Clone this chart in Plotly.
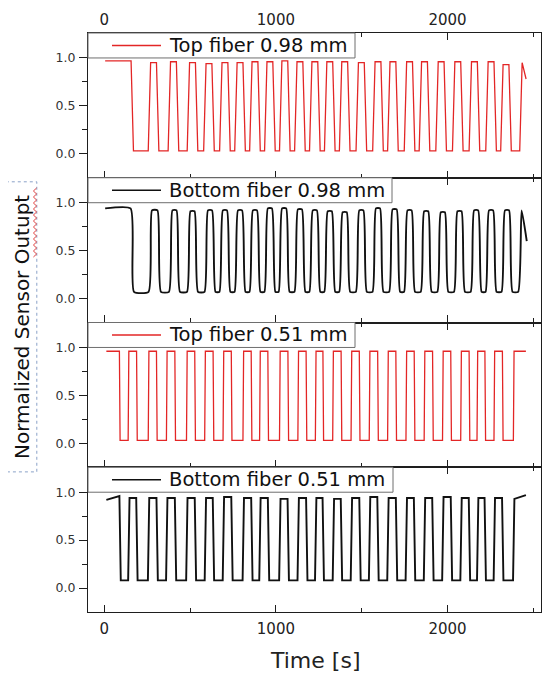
import plotly.graph_objects as go

# ---------------- data ----------------
# Edge times [s] (mid-level crossings), alternating fall / rise, starting with a fall
top098_edges = [163, 263, 311, 379, 427, 490, 538, 586, 634, 679, 727, 767, 815,
                854, 902, 941, 989, 1028, 1076, 1116, 1164, 1203, 1251, 1290, 1338,
                1377, 1425, 1474, 1522, 1571, 1619, 1658, 1706, 1755, 1803, 1842, 1890,
                1939, 1987, 2036, 2084, 2133, 2181, 2230, 2278, 2317, 2365, 2428]
top098_highs = [0.97, 0.95, 0.96, 0.95, 0.94, 0.95, 0.95, 0.96, 0.96, 0.97, 0.96, 0.96,
                0.96, 0.96, 0.95, 0.96, 0.96, 0.96, 0.96, 0.96, 0.96, 0.96, 0.96, 0.93, 0.95]
top098_low = 0.03
top098_start, top098_start_val = 5, 0.97
top098_end, top098_end_val = 2458, 0.78

bot098_edges = [163, 268, 320, 387, 431, 492, 536, 594, 638, 681, 725, 769, 813,
                856, 900, 943, 987, 1026, 1070, 1118, 1162, 1205, 1249, 1292, 1336,
                1379, 1423, 1476, 1520, 1573, 1617, 1670, 1714, 1757, 1801, 1854, 1898,
                1951, 1995, 2048, 2092, 2145, 2189, 2232, 2276, 2325, 2369, 2422]
bot098_highs = [0.94, 0.92, 0.92, 0.91, 0.92, 0.92, 0.92, 0.92, 0.94, 0.94, 0.93, 0.92,
                0.91, 0.90, 0.92, 0.94, 0.93, 0.92, 0.91, 0.90, 0.91, 0.92, 0.92, 0.92, 0.92]
bot098_low = 0.07
bot098_start, bot098_start_val = 5, 0.94
bot098_end, bot098_end_val = 2462, 0.60

top051_edges = [90, 141, 190, 258, 306, 364, 413, 481, 529, 587, 636, 694, 742,
                810, 858, 907, 955, 1023, 1072, 1130, 1178, 1232, 1276, 1333, 1382,
                1440, 1488, 1546, 1595, 1653, 1701, 1760, 1808, 1866, 1915, 1973, 2021,
                2079, 2128, 2174, 2220, 2273, 2322, 2386]
top051_highs = [0.96, 0.96, 0.96, 0.96, 0.96, 0.96, 0.96, 0.96, 0.96, 0.96, 0.96, 0.96,
                0.96, 0.96, 0.96, 0.96, 0.96, 0.96, 0.96, 0.96, 0.96, 0.96, 0.96]
top051_low = 0.03
top051_start, top051_start_val = 12, 0.96
top051_end, top051_end_val = 2457, 0.96

bot051_edges = [92, 143, 190, 258, 308, 364, 415, 481, 531, 589, 636, 694, 744,
                810, 860, 907, 957, 1023, 1072, 1130, 1180, 1232, 1276, 1335, 1382,
                1440, 1490, 1546, 1595, 1653, 1703, 1760, 1808, 1866, 1915, 1973, 2023,
                2079, 2128, 2176, 2220, 2273, 2322, 2386]
bot051_highs = [0.96, 0.94, 0.94, 0.94, 0.94, 0.94, 0.95, 0.94, 0.94, 0.93, 0.94, 0.94,
                0.93, 0.94, 0.95, 0.94, 0.94, 0.94, 0.95, 0.94, 0.94, 0.94, 0.93]
bot051_low = 0.08
bot051_start, bot051_start_val = 12, 0.92
bot051_end, bot051_end_val = 2457, 0.97

series_names = ["Top fiber 0.98 mm", "Bottom fiber 0.98 mm",
                "Top fiber 0.51 mm", "Bottom fiber 0.51 mm"]
x_ticks = [0, 1000, 2000]
y_ticks = [0.0, 0.5, 1.0]


def step_path(t_start, start_val, edges, highs, low, t_end, end_val, ramp):
    t, y = [t_start], [start_val]
    hi_idx, is_high = 0, True
    for e in edges:
        if is_high:
            t += [e - ramp / 2, e + ramp / 2]
            y += [highs[hi_idx], low]
        else:
            hi_idx += 1
            t += [e - ramp / 2, e + ramp / 2]
            y += [low, highs[hi_idx]]
        is_high = not is_high
    t.append(t_end)
    y.append(end_val)
    return t, y


RED = "#e32626"
BLK = "#111111"
FONT = "DejaVu Sans"

panels = [
    step_path(top098_start, top098_start_val, top098_edges, top098_highs, top098_low,
              top098_end, top098_end_val, 14),
    step_path(bot098_start, bot098_start_val, bot098_edges, bot098_highs, bot098_low,
              bot098_end, bot098_end_val, 20),
    step_path(top051_start, top051_start_val, top051_edges, top051_highs, top051_low,
              top051_end, top051_end_val, 4),
    step_path(bot051_start, bot051_start_val, bot051_edges, bot051_highs, bot051_low,
              bot051_end, bot051_end_val, 8),
]
colors = [RED, BLK, RED, BLK]
widths = [1.3, 1.9, 1.3, 1.9]
shapes_ = ["linear", "spline", "linear", "linear"]

# page body adds an 8 px offset; plot area ends up at x 88..541, y 33..612
PLOT_W, PANEL_H = 453, 145
legend_right = [355, 392, 355, 393]   # right edge of each legend box (px)

fig = go.Figure()
domains = [(0.75, 1.0), (0.5, 0.75), (0.25, 0.5), (0.0, 0.25)]

layout = dict(
    width=542, height=667,
    margin=dict(l=80, r=9, t=25, b=63, autoexpand=False),
    paper_bgcolor="white", plot_bgcolor="white",
    font=dict(family=FONT, color="#222"),
    showlegend=False,
)

FRAME = "#1e1e1e"
shapes = []
annotations = []
for i in range(4):
    (t, y) = panels[i]
    n = i + 1
    sfx = "" if n == 1 else str(n)
    line = dict(color=colors[i], width=widths[i], shape=shapes_[i])
    if shapes_[i] == "spline":
        line["smoothing"] = 0.5
    fig.add_trace(go.Scatter(
        x=t, y=y, mode="lines", name=series_names[i], line=line,
        xaxis="x" + sfx, yaxis="y" + sfx,
    ))
    xa = dict(
        domain=[0, 1], anchor="y" + sfx, range=[-95, 2545], automargin=False,
        tickvals=x_ticks, ticks="inside", ticklen=7, tickwidth=1.2, tickcolor=FRAME,
        minor=dict(tickvals=[500, 1500, 2500], ticks="inside", ticklen=4, tickcolor=FRAME),
        mirror="allticks", showline=True, linecolor=FRAME, linewidth=1.2,
        showgrid=False, zeroline=False,
        tickfont=dict(family=FONT, size=15, color="#222"),
        showticklabels=(n in (1, 4)),
    )
    if n == 1:
        xa["side"] = "top"
        xa["ticklabelstandoff"] = 1
    if n == 4:
        xa["side"] = "bottom"
        xa["ticklabelstandoff"] = 3
    ya = dict(
        domain=list(domains[i]), anchor="x" + sfx, range=[-0.25, 1.26], automargin=False,
        tickvals=y_ticks, tickformat=".1f",
        ticks="outside", ticklen=8, tickwidth=1.2, tickcolor=FRAME,
        minor=dict(tickvals=[0.25, 0.75], ticks="outside", ticklen=5, tickcolor=FRAME),
        mirror="allticks", showline=True, linecolor=FRAME, linewidth=1.2,
        showgrid=False, zeroline=False,
        tickfont=dict(family=FONT, size=12.5, color="#333"),
        ticklabelstandoff=1,
    )
    layout["xaxis" + sfx] = xa
    layout["yaxis" + sfx] = ya

    # legend box drawn per panel
    xr, yr = "x" + sfx + " domain", "y" + sfx + " domain"
    box_h = 25 / PANEL_H
    shapes.append(dict(type="rect", xref=xr, yref=yr, layer="above",
                       x0=0, x1=(legend_right[i] - 88) / PLOT_W, y0=1 - box_h, y1=1,
                       fillcolor="white", line=dict(color="#6e6e6e", width=1)))
    shapes.append(dict(type="line", xref=xr, yref=yr, layer="above",
                       x0=24 / PLOT_W, x1=73 / PLOT_W, y0=1 - 12.5 / PANEL_H,
                       y1=1 - 12.5 / PANEL_H,
                       line=dict(color=colors[i], width=1.3)))
    annotations.append(dict(text=series_names[i], xref=xr, yref=yr,
                            x=79 / PLOT_W, y=1 - 12.5 / PANEL_H,
                            xanchor="left", yanchor="middle", showarrow=False,
                            font=dict(family=FONT, size=19.5, color="#111")))

fig.update_layout(**layout)

# x-axis title
annotations.append(dict(
    text="Time [s]", xref="paper", yref="paper", x=0.5, y=(612 - 660) / 579,
    xanchor="center", yanchor="middle", showarrow=False,
    font=dict(family=FONT, size=22, color="#222"),
))
# y-axis title (shared by all panels)
annotations.append(dict(
    text="Normalized Sensor Outupt", textangle=-90,
    xref="paper", yref="paper", x=-0.146, y=0.492,
    xanchor="center", yanchor="middle",
    showarrow=False, font=dict(family=FONT, size=20, color="#111"),
))
# dotted frame around the y title
shapes.append(dict(type="rect", xref="paper", yref="paper",
                   x0=-0.179, x1=-0.113, y0=0.242, y1=0.743,
                   line=dict(color="#8aa2c8", width=1, dash="dot")))
# red wavy spell-check underline beside "Outupt"
xc, amp = -0.117, 0.0035
ys0, ys1 = (612 - 257) / 579, (612 - 188) / 579
step = 3 / 579
path = f"M {xc - amp} {ys0}"
k, yy = 0, ys0
while yy < ys1:
    yy += step
    k += 1
    path += f" L {xc + (amp if k % 2 else -amp)} {min(yy, ys1)}"
shapes.append(dict(type="path", xref="paper", yref="paper", path=path,
                   line=dict(color="#e04040", width=1)))

fig.update_layout(shapes=shapes, annotations=annotations)

fig.write_html("out.html")
